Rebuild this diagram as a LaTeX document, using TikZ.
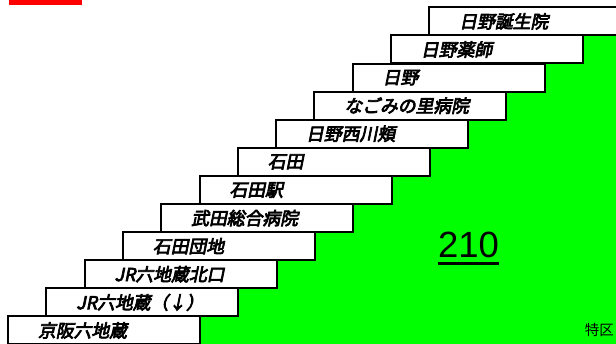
\documentclass[tikz,border=0pt]{standalone}
\usepackage{fontspec}
\setmainfont{Liberation Sans}
\newfontfamily\jpb[FakeSlant=0.2,FakeBold=4]{Noto Sans CJK JP}
\newfontfamily\jp{Noto Sans CJK JP}
\definecolor{stairgreen}{RGB}{0,255,0}
\begin{document}
\begin{tikzpicture}[x=1pt,y=-1pt,
  stopbox/.style={draw=black,line width=2pt,fill=white,anchor=north west,
    minimum width=192pt,minimum height=28pt,text width=132pt,inner xsep=30pt,
    inner ysep=0pt,align=left,font=\jpb\fontsize{17.8}{17.8}\selectfont},
  rowfill/.style={fill=stairgreen}]
\useasboundingbox (0,0) rectangle (616,344);
\clip (0,0) rectangle (616,344);
\fill[red] (9,0) rectangle (82,5);
\foreach \k in {0,...,10}
  \fill[rowfill] ({7+38.3*\k+191},{315.5-28.1*\k}) rectangle (616,{315.5-28.1*\k+29});
\node[stopbox] (b0)  at (7,315.5) {京阪六地蔵};
\node[stopbox] (b1)  at (45.3,287.4) {JR六地蔵（↓）};
\node[stopbox] (b2)  at (83.6,259.3) {JR六地蔵北口};
\node[stopbox] (b3)  at (121.9,231.2) {石田団地};
\node[stopbox] (b4)  at (160.2,203.1) {武田総合病院};
\node[stopbox] (b5)  at (198.5,175) {石田駅};
\node[stopbox] (b6)  at (236.8,146.9) {石田};
\node[stopbox] (b7)  at (275.1,118.8) {日野西川頬};
\node[stopbox] (b8)  at (313.4,90.7) {なごみの里病院};
\node[stopbox] (b9)  at (351.7,62.6) {日野};
\node[stopbox] (b10) at (390,34.5) {日野薬師};
\node[stopbox] (b11) at (428.3,6.4) {日野誕生院};
\coordinate (bend) at (620,343);
\draw[line width=2pt] (b0.south west) -- (b0.south west -| bend);
\node[inner sep=0pt,font=\fontsize{36.5}{36.5}\selectfont] (num) at (468.5,245) {210};
\draw[line width=3pt] ([yshift=-5.5pt]num.base west) -- ([yshift=-5.5pt]num.base east);
\node[inner sep=0pt,anchor=east,font=\jp\fontsize{14.5}{14.5}\selectfont] (tk) at (614,330) {特区};
\end{tikzpicture}
\end{document}
